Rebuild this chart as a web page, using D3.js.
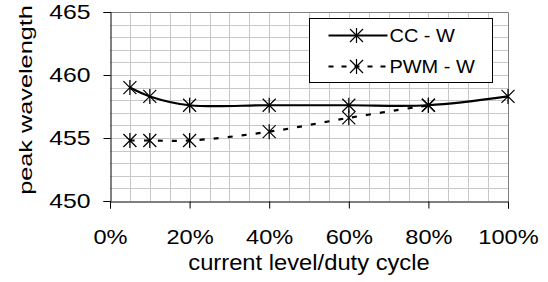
<!DOCTYPE html>
<html>
<head>
<meta charset="utf-8">
<script src="https://cdn.jsdelivr.net/npm/d3@7"></script>
<style>
  body { margin: 0; background: #fff; }
  text { font-family: "Liberation Sans", Arial, sans-serif; fill: #000; }
</style>
</head>
<body>
<div id="chart"></div>
<script>
// values
const xLevels = [0.05, 0.10, 0.20, 0.40, 0.60, 0.80, 1.00];
const ccW = [459.0, 458.3, 457.6, 457.6, 457.6, 457.6, 458.3];
const pwmLevels = [0.05, 0.10, 0.20, 0.40, 0.60, 0.80];
const pwmW = [454.8, 454.8, 454.8, 455.5, 456.6, 457.6];
const xTicks = [0, 0.2, 0.4, 0.6, 0.8, 1.0];
const yTicks = [450, 455, 460, 465];
const seriesNames = ['CC - W', 'PWM - W'];

const width = 548, height = 282;
const margin = {top: 12, right: 40, bottom: 81, left: 110};

const svg = d3.select('#chart').append('svg')
  .attr('width', width)
  .attr('height', height);

const x = d3.scaleLinear().domain([0, 1]).range([margin.left, width - margin.right]);
const y = d3.scaleLinear().domain([450, 465]).range([height - margin.bottom, margin.top]);

// grid: every 5% and every 1 nm
svg.append('g')
  .selectAll('line')
  .data(d3.range(1, 20).map(i => i * 0.05))
  .join('line')
    .attr('x1', d => Math.round(x(d)) + 0.5)
    .attr('x2', d => Math.round(x(d)) + 0.5)
    .attr('y1', y(465))
    .attr('y2', y(450))
    .attr('stroke', '#c8c8c8');

svg.append('g')
  .selectAll('line')
  .data(d3.range(451, 465))
  .join('line')
    .attr('x1', x(0))
    .attr('x2', x(1))
    .attr('y1', d => Math.round(y(d)) + 0.5)
    .attr('y2', d => Math.round(y(d)) + 0.5)
    .attr('stroke', '#c8c8c8');

// top/right frame
svg.append('path')
  .attr('d', `M${x(0)},${Math.round(y(465)) + 0.5}H${Math.round(x(1)) + 0.5}V${y(450)}`)
  .attr('fill', 'none')
  .attr('stroke', '#808080');

// axes
const xAxis = svg.append('g')
  .attr('transform', `translate(0,${Math.round(y(450)) + 0.5})`)
  .call(d3.axisBottom(x).tickValues(xTicks).tickFormat(d3.format('.0%')).tickSizeOuter(0).tickSize(7));

const yAxis = svg.append('g')
  .attr('transform', `translate(${Math.round(x(0)) + 0.5},0)`)
  .call(d3.axisLeft(y).tickValues(yTicks).tickSizeOuter(0).tickSize(7));

[xAxis, yAxis].forEach(a => {
  a.select('.domain').attr('stroke', '#000');
  a.selectAll('.tick line').attr('stroke', '#000');
  a.selectAll('.tick text')
    .attr('font-size', 20)
    .attr('font-family', '"Liberation Sans", Arial, sans-serif')
    .attr('fill', '#000')
    .attr('x', 0)
    .attr('y', 0);
});
// the reference font is drawn a bit wider than it is tall
xAxis.selectAll('.tick text')
  .attr('dy', null)
  .attr('transform', 'translate(0,42.5) scale(1.18,1)');
yAxis.selectAll('.tick text')
  .attr('dy', '0.35em')
  .attr('transform', 'translate(-20,-1) scale(1.24,1)');

// axis titles
svg.append('text')
  .attr('transform', `translate(${x(0.5)},270) scale(1.08,1)`)
  .attr('text-anchor', 'middle')
  .attr('font-size', 22)
  .text('current level/duty cycle');

svg.append('text')
  .attr('transform', `translate(32,100) rotate(-90) scale(1.33,1)`)
  .attr('text-anchor', 'middle')
  .attr('font-size', 19)
  .text('peak wavelength');

// star marker: X with vertical bar
function star(g, cx, cy) {
  const r = 6.5;
  g.append('path')
    .attr('d', `M${cx - r},${cy - r}L${cx + r},${cy + r}M${cx - r},${cy + r}L${cx + r},${cy - r}M${cx},${cy - r - 1}V${cy + r + 1}`)
    .attr('stroke', '#000')
    .attr('stroke-width', 1.2)
    .attr('fill', 'none');
}

const line = d3.line()
  .x(d => x(d[0]))
  .y(d => y(d[1]))
  .curve(d3.curveCatmullRom.alpha(0.5));

const pwmPts = pwmLevels.map((d, i) => [d, pwmW[i]]);
const ccPts = xLevels.map((d, i) => [d, ccW[i]]);

svg.append('path')
  .attr('d', line(pwmPts))
  .attr('fill', 'none')
  .attr('stroke', '#000')
  .attr('stroke-width', 2.2)
  .attr('stroke-dasharray', '5,9');

svg.append('path')
  .attr('d', line(ccPts))
  .attr('fill', 'none')
  .attr('stroke', '#000')
  .attr('stroke-width', 2.2);

const marks = svg.append('g');
pwmPts.forEach(p => star(marks, x(p[0]), y(p[1])));
ccPts.forEach(p => star(marks, x(p[0]), y(p[1])));

// legend
const lg = svg.append('g').attr('transform', 'translate(309.5,18.5)');
lg.append('rect')
  .attr('width', 183)
  .attr('height', 64)
  .attr('fill', '#fff')
  .attr('stroke', '#000');

seriesNames.forEach((name, i) => {
  const ly = 17 + i * 31;
  lg.append('line')
    .attr('x1', 19).attr('x2', 78)
    .attr('y1', ly).attr('y2', ly)
    .attr('stroke', '#000')
    .attr('stroke-width', 2.2)
    .attr('stroke-dasharray', i === 1 ? '5,8' : null);
  star(lg, 47, ly);
  lg.append('text')
    .attr('transform', `translate(80,${ly}) scale(1.05,1)`)
    .attr('dy', '0.35em')
    .attr('font-size', 19)
    .text(name);
});
</script>
</body>
</html>
